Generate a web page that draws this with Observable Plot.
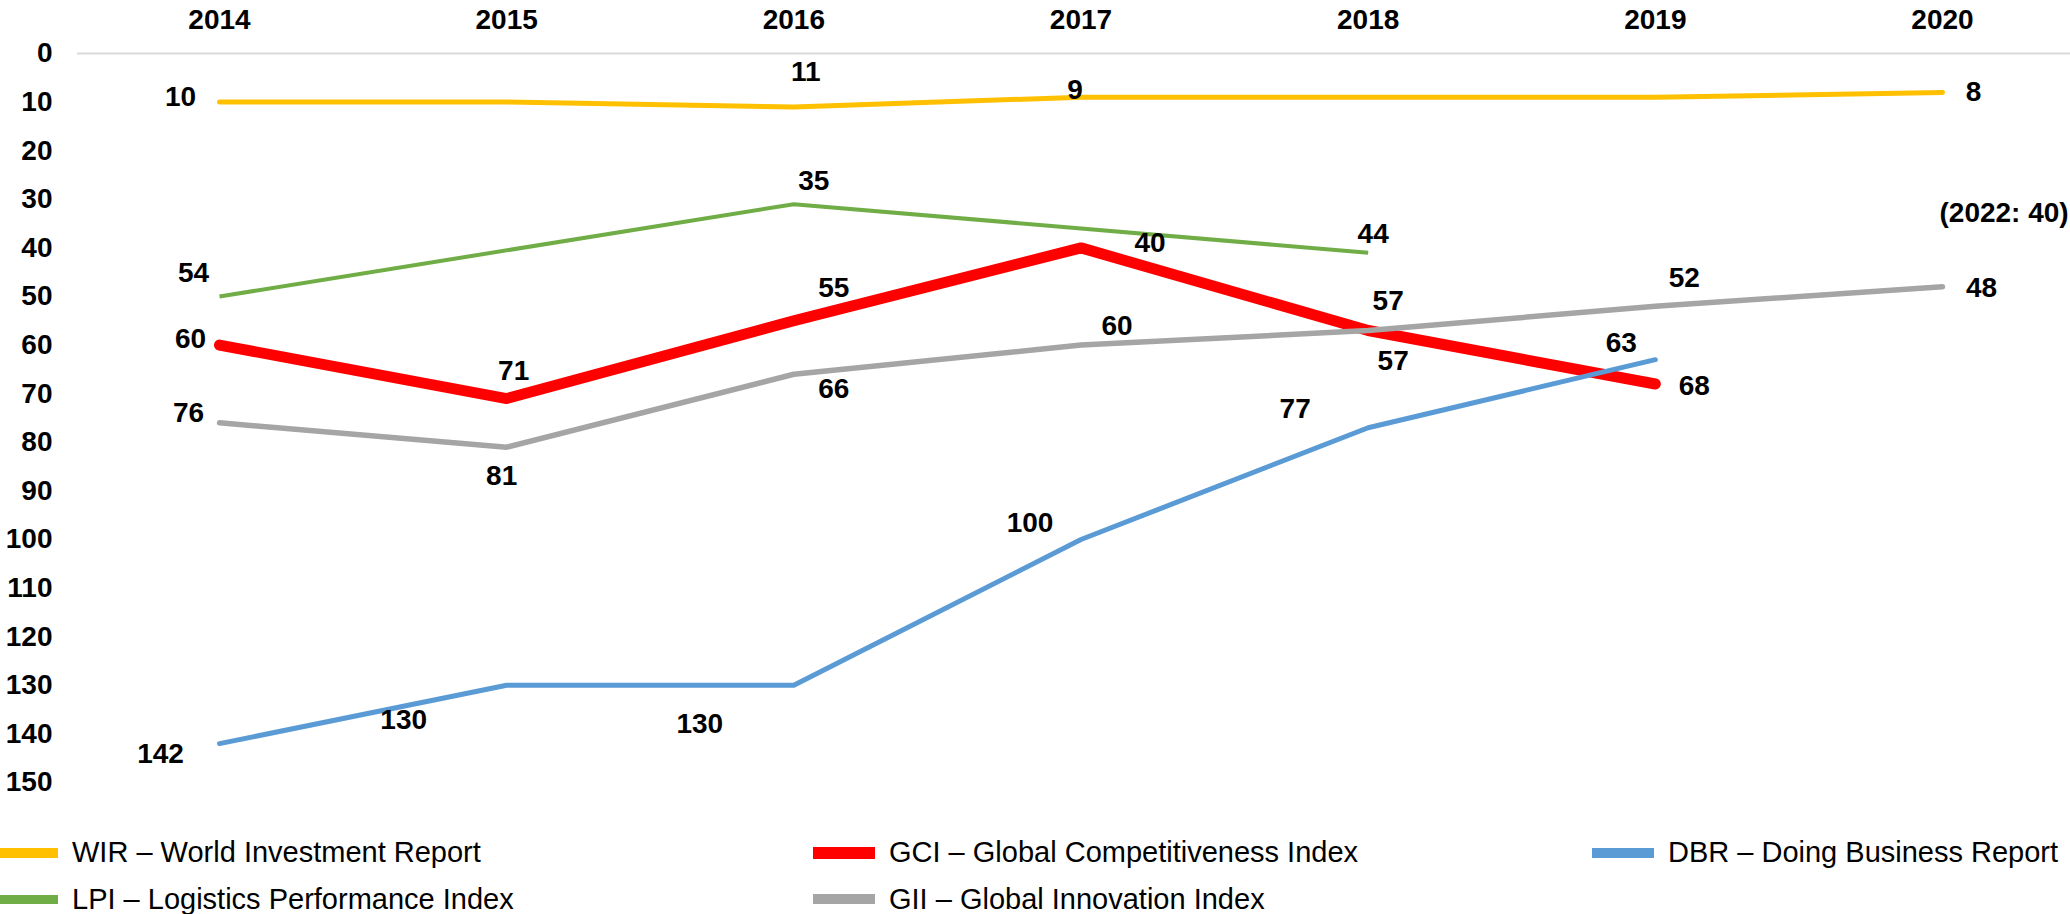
<!DOCTYPE html>
<html><head><meta charset="utf-8">
<script src="https://cdn.jsdelivr.net/npm/d3@7"></script>
<script src="https://cdn.jsdelivr.net/npm/@observablehq/plot@0.6"></script>
<style>
body{margin:0;background:#fff;}
#wrap{position:relative;width:2070px;height:914px;overflow:hidden;font-family:"Liberation Sans",Arial,sans-serif;background:#fff;}
#wrap svg{position:absolute;left:0;top:0;}
.item{position:absolute;display:flex;align-items:center;height:29px;line-height:29px;font-size:29px;color:#000;white-space:nowrap;}
.sw{display:inline-block;margin-right:14px;}
</style></head><body><div id="wrap"></div>
<script>
// ---- data ----
const years = [2014, 2015, 2016, 2017, 2018, 2019, 2020];
const yTicks = [0, 10, 20, 30, 40, 50, 60, 70, 80, 90, 100, 110, 120, 130, 140, 150];

const seriesKeys   = ["WIR", "GCI", "DBR", "LPI", "GII"];
const seriesNames  = ["WIR – World Investment Report", "GCI – Global Competitiveness Index", "DBR – Doing Business Report", "LPI – Logistics Performance Index", "GII – Global Innovation Index"];
const seriesColors = ["#FFC000", "#FF0000", "#5B9BD5", "#70AD47", "#A5A5A5"];

// plotted ranks (line positions) per year
const wirRank = [10, 10, 11, 9, 9, 9, 8];
const gciRank = [60, 71, 55, 40, 57, 68, null];
const dbrRank = [142, 130, 130, 100, 77, 63, null];
const lpiRank = [50, null, 31, null, 41, null, null];
const giiRank = [76, 81, 66, 60, 57, 52, 48];

// printed data labels per year
const wirLabel = ["10", null, "11", "9", null, null, "8"];
const gciLabel = ["60", "71", "55", "40", "57", "68", null];
const dbrLabel = ["142", "130", "130", "100", "77", "63", null];
const lpiLabel = ["54", null, "35", null, "44", null, null];
const giiLabel = ["76", "81", "66", "60", "57", "52", "48"];

const noteYear = 2020, noteValue = 40, noteText = "(2022: 40)";

// ---- layout / style (not data) ----
const strokeWidths = {WIR: 5, GCI: 11, DBR: 5, LPI: 4, GII: 5.5};
const swatchHeights = {WIR: 10, GCI: 12, DBR: 10, LPI: 9, GII: 10};
const labelOffsets = {
  "WIR-2014": [-39, -5], "WIR-2016": [12, -35], "WIR-2017": [-6, -7], "WIR-2020": [31, 0],
  "GCI-2014": [-29, -6], "GCI-2015": [7, -28], "GCI-2016": [40, -33], "GCI-2017": [69, -5], "GCI-2018": [25, 31], "GCI-2019": [39, 2],
  "DBR-2014": [-59, 10], "DBR-2015": [-103, 35], "DBR-2016": [-94, 39], "DBR-2017": [-51, -16], "DBR-2018": [-73, -19], "DBR-2019": [-34, -17],
  "LPI-2014": [-26, -23], "LPI-2016": [20, -23], "LPI-2018": [5, -19],
  "GII-2014": [-31, -10], "GII-2015": [-5, 29], "GII-2016": [40, 15], "GII-2017": [36, -19], "GII-2018": [20, -29], "GII-2019": [29, -28], "GII-2020": [39, 1]
};

// ---- build tables ----
const rankArrays  = {WIR: wirRank, GCI: gciRank, DBR: dbrRank, LPI: lpiRank, GII: giiRank};
const labelArrays = {WIR: wirLabel, GCI: gciLabel, DBR: dbrLabel, LPI: lpiLabel, GII: giiLabel};
const colorOf = Object.fromEntries(seriesKeys.map((k, i) => [k, seriesColors[i]]));

const rows = [];
for (const k of seriesKeys) {
  years.forEach((yr, i) => {
    const v = rankArrays[k][i];
    if (v != null) rows.push({series: k, year: yr, rank: v, label: labelArrays[k][i]});
  });
}

const lineMarks = seriesKeys.map(k => Plot.line(rows.filter(d => d.series === k), {
  x: "year", y: "rank", stroke: colorOf[k], strokeWidth: strokeWidths[k],
  strokeLinecap: k === "LPI" ? "butt" : "round", strokeLinejoin: "round"
}));

const labelMarks = rows.filter(d => d.label != null).map(d => {
  const off = labelOffsets[d.series + "-" + d.year] || [0, -20];
  return Plot.text([d], {x: "year", y: "rank", text: "label", dx: off[0], dy: off[1],
    fontSize: 28, fontWeight: "bold", fill: "#000"});
});

const noteMark = Plot.text([{year: noteYear, rank: noteValue, label: noteText}], {
  x: "year", y: "rank", text: "label", textAnchor: "start", dx: -3, dy: -35,
  fontSize: 28, fontWeight: "bold", fill: "#000"});

const chart = Plot.plot({
  width: 2070, height: 820,
  marginLeft: 219, marginRight: 128, marginTop: 53, marginBottom: 38,
  x: {domain: [2014, 2020]},
  y: {domain: [0, 150], reverse: true},
  style: {fontFamily: "'Liberation Sans', Arial, sans-serif", background: "transparent", color: "#000", overflow: "visible"},
  marks: [
    Plot.ruleY([0], {stroke: "#d9d9d9", strokeWidth: 2, insetLeft: -142, insetRight: -128}),
    Plot.axisX({anchor: "top", ticks: years, tickFormat: d => String(d), tickSize: 0, tickPadding: 25,
      fontSize: 28, fontWeight: "bold", label: null, fill: "#000"}),
    Plot.axisY({anchor: "left", ticks: yTicks, tickSize: 0, tickPadding: 167,
      fontSize: 28, fontWeight: "bold", label: null, fill: "#000"}),
    ...lineMarks,
    ...labelMarks,
    noteMark
  ]
});

const wrap = document.getElementById("wrap");
wrap.appendChild(chart);

// ---- legend (HTML, below the SVG) ----
const legendCols = [0, 813, 1592];
const legendRows = [852.5, 899];
const swatchWidths = [58, 62, 62];
seriesKeys.forEach((k, i) => {
  const col = i % 3, row = Math.floor(i / 3);
  const it = document.createElement("div");
  it.className = "item";
  it.style.left = legendCols[col] + "px";
  it.style.top = (legendRows[row] - 14.5) + "px";
  const sw = document.createElement("span");
  sw.className = "sw";
  sw.style.width = swatchWidths[col] + "px";
  sw.style.height = swatchHeights[k] + "px";
  sw.style.background = seriesColors[i];
  const tx = document.createElement("span");
  tx.textContent = seriesNames[i];
  it.appendChild(sw); it.appendChild(tx);
  wrap.appendChild(it);
});
</script></body></html>
